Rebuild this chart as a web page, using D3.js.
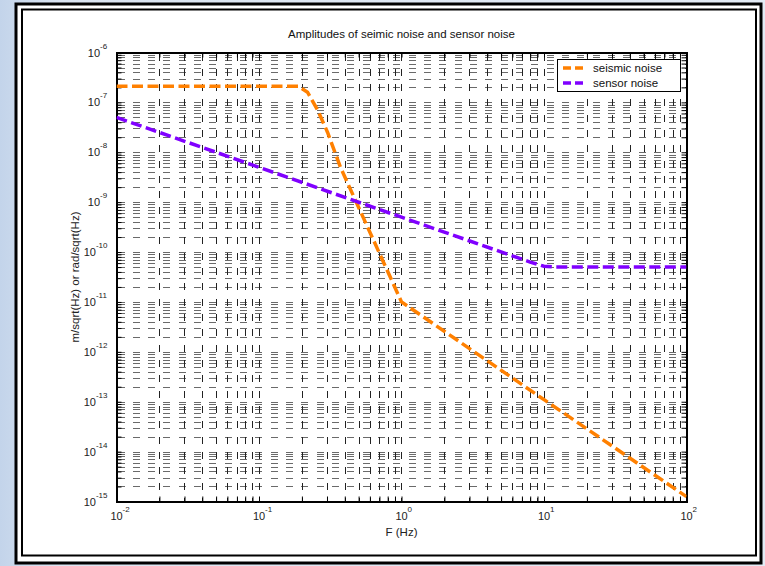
<!DOCTYPE html>
<html>
<head>
<meta charset="utf-8">
<script src="https://cdn.jsdelivr.net/npm/d3@7"></script>
<style>
  html, body { margin: 0; padding: 0; }
  body { width: 765px; height: 566px; overflow: hidden;
         background: linear-gradient(90deg, #c3d4ea 0%, #dbe5f2 8%, #e3ebf5 100%); }
  svg { display: block; font-family: "Liberation Sans", Arial, sans-serif; }
</style>
</head>
<body>
<svg id="chart" width="765" height="566"></svg>
<script>
// Axis decades (exponents of ten)
const xExponents = [-2, -1, 0, 1, 2];
const yExponents = [-15, -14, -13, -12, -11, -10, -9, -8, -7, -6];

// Seismic noise curve (frequency in Hz, amplitude)
const seismicFreq = [0.01, 0.189, 0.219, 0.258, 0.303, 0.373, 1, 10, 100];
const seismicAmp  = [2.1e-7, 2.1e-7, 1.6e-7, 7e-8, 2.5e-8, 5e-9, 1.0e-11, 1.1e-13, 1.25e-15];

// Sensor noise curve
const sensorFreq = [0.01, 1, 8, 10, 12, 100];
const sensorAmp  = [5e-8, 5e-10, 6.3e-11, 5.2e-11, 5e-11, 5e-11];

const seriesNames = ["seismic noise", "sensor noise"];
const seriesColors = ["#ff8000", "#8000ff"];

const svg = d3.select("#chart");

// Double black frame round the white figure (like an exported figure window)
svg.append("rect").attr("x", 16).attr("y", 4).attr("width", 745).attr("height", 559)
    .attr("fill", "white").attr("stroke", "black").attr("stroke-width", 3);
svg.append("rect").attr("x", 22).attr("y", 9.5).attr("width", 734).attr("height", 546)
    .attr("fill", "white").attr("stroke", "black").attr("stroke-width", 2);

// Plot area
const plotLeft = 116.5, plotRight = 686.5, plotTop = 52.5, plotBottom = 501.5;

const x = d3.scaleLog().domain([1e-2, 1e2]).range([plotLeft, plotRight]);
const y = d3.scaleLog().domain([1e-15, 1e-6]).range([plotBottom, plotTop]);

// All tick positions (major + minor) for the grid
function logTicks(exps) {
    let out = [];
    for (let i = 0; i < exps.length; i++) {
        let e = exps[i];
        out.push(Math.pow(10, e));
        if (i < exps.length - 1) {
            for (let m = 2; m <= 9; m++) out.push(m * Math.pow(10, e));
        }
    }
    return out;
}
const xAll = logTicks(xExponents);
const yAll = logTicks(yExponents);

const grid = svg.append("g").attr("shape-rendering", "crispEdges");

// horizontal grid lines (dotted lines that came out as dashes)
grid.selectAll("line.h").data(yAll.slice(1, -1)).enter().append("line")
    .attr("class", "h")
    .attr("x1", plotLeft + 1).attr("x2", plotRight)
    .attr("y1", d => Math.round(y(d)) + 0.5).attr("y2", d => Math.round(y(d)) + 0.5)
    .attr("stroke", "#6a6a6a").attr("stroke-width", 1)
    .attr("stroke-dasharray", "7,8.33");

// vertical grid lines
grid.selectAll("line.v").data(xAll.slice(1, -1)).enter().append("line")
    .attr("class", "v")
    .attr("y1", plotTop + 1).attr("y2", plotBottom)
    .attr("x1", d => Math.round(x(d)) + 0.5).attr("x2", d => Math.round(x(d)) + 0.5)
    .attr("stroke", "#222").attr("stroke-width", 1)
    .attr("stroke-dasharray", "7,8.33");

// Axes with inward ticks on every side (box on)
const tickLen = 5;
const xAxisB = d3.axisBottom(x).tickValues(xAll).tickSize(-tickLen).tickFormat("");
const xAxisT = d3.axisTop(x).tickValues(xAll).tickSize(-tickLen).tickFormat("");
const yAxisL = d3.axisLeft(y).tickValues(yAll).tickSize(-tickLen).tickFormat("");
const yAxisR = d3.axisRight(y).tickValues(yAll).tickSize(-tickLen).tickFormat("");

function styleAxis(g) {
    g.selectAll("path").attr("stroke", "black").attr("stroke-width", 2);
    g.selectAll("line").attr("stroke", "black").attr("stroke-width", 1);
}
svg.append("g").attr("transform", `translate(0,${plotBottom})`).call(xAxisB).call(styleAxis);
svg.append("g").attr("transform", `translate(0,${plotTop})`).call(xAxisT).call(styleAxis);
svg.append("g").attr("transform", `translate(${plotLeft},0)`).call(yAxisL).call(styleAxis);
svg.append("g").attr("transform", `translate(${plotRight},0)`).call(yAxisR).call(styleAxis);

// Tick labels: 10 with superscript exponent
const xLab = svg.append("g").attr("font-size", 11).attr("fill", "#222");
xExponents.forEach(e => {
    let px = x(Math.pow(10, e));
    xLab.append("text").attr("x", px).attr("y", 520).attr("text-anchor", "middle").text("10");
    xLab.append("text").attr("x", px + 6).attr("y", 512).attr("font-size", 8).text(e);
});
const yLab = svg.append("g").attr("font-size", 11).attr("fill", "#222");
yExponents.forEach(e => {
    let py = y(Math.pow(10, e));
    let expW = String(e).length * 4.2;
    yLab.append("text").attr("x", plotLeft - 8 - expW).attr("y", py + 4)
        .attr("text-anchor", "end").text("10");
    yLab.append("text").attr("x", plotLeft - 8 - expW).attr("y", py - 4)
        .attr("font-size", 8).text(e);
});

// Axis titles and chart title
svg.append("text").attr("x", (plotLeft + plotRight) / 2).attr("y", 536).attr("text-anchor", "middle")
    .attr("font-size", 11.5).attr("fill", "#222").text("F (Hz)");
svg.append("text").attr("transform", `translate(79,${(plotTop + plotBottom) / 2}) rotate(-90)`)
    .attr("text-anchor", "middle").attr("font-size", 11.5).attr("fill", "#222")
    .text("m/sqrt(Hz) or rad/sqrt(Hz)");
svg.append("text").attr("x", (plotLeft + plotRight) / 2).attr("y", 38).attr("text-anchor", "middle")
    .attr("font-size", 11.5).attr("fill", "#111").text("Amplitudes of seimic noise and sensor noise");

// Curves
const line = d3.line().x(d => x(d[0])).y(d => y(d[1]));
const seismic = seismicFreq.map((f, i) => [f, seismicAmp[i]]);
const sensor = sensorFreq.map((f, i) => [f, sensorAmp[i]]);

svg.append("defs").append("clipPath").attr("id", "plotClip")
    .append("rect").attr("x", plotLeft).attr("y", plotTop)
    .attr("width", plotRight - plotLeft).attr("height", plotBottom - plotTop);

const curves = svg.append("g").attr("clip-path", "url(#plotClip)");
[seismic, sensor].forEach((data, i) => {
    curves.append("path")
        .attr("d", line(data))
        .attr("fill", "none")
        .attr("stroke", seriesColors[i])
        .attr("stroke-width", 3.5)
        .attr("stroke-dasharray", "11,4.5");
});

// Legend
const legend = svg.append("g");
legend.append("rect").attr("x", 557.5).attr("y", 59.5).attr("width", 123).attr("height", 32)
    .attr("fill", "white").attr("stroke", "black").attr("stroke-width", 1);
seriesNames.forEach((name, i) => {
    let ly = 68 + i * 15;
    legend.append("line").attr("x1", 563).attr("x2", 587).attr("y1", ly).attr("y2", ly)
        .attr("stroke", seriesColors[i]).attr("stroke-width", 3.5)
        .attr("stroke-dasharray", "8,4");
    legend.append("text").attr("x", 593).attr("y", ly + 4).attr("font-size", 11.5)
        .attr("fill", "#111").text(name);
});
</script>
</body>
</html>
